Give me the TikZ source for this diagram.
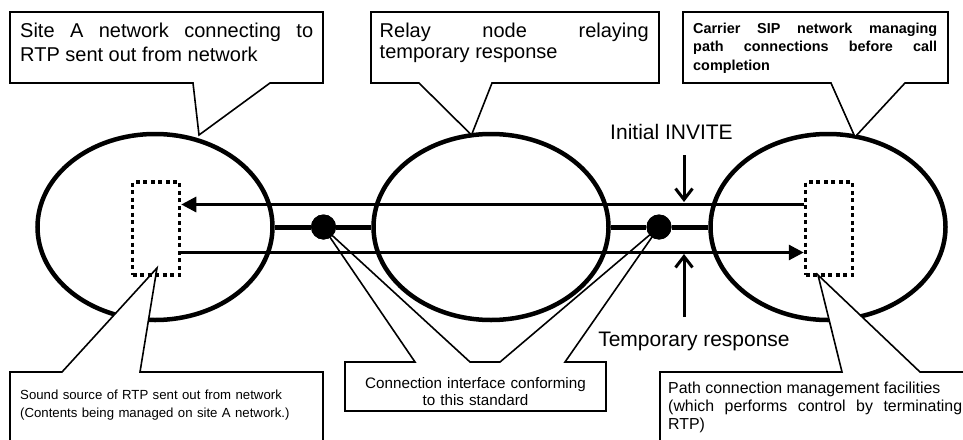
\documentclass[tikz,border=0pt]{standalone}
\usepackage{fontspec}
\setmainfont{Liberation Sans}
\usetikzlibrary{arrows.meta,shapes.geometric}

\tikzset{
  net/.style={ellipse,draw,line width=4.5pt,minimum width=235pt,minimum height=186pt,inner sep=0pt},
  srcbox/.style={draw,line width=3.5pt,dash pattern=on 4pt off 3.5pt,minimum width=47pt,minimum height=93pt,inner sep=0pt},
  junction/.style={circle,fill,minimum size=25pt,inner sep=0pt},
  callout/.style={fill=white,draw,line width=1.6pt,line join=miter},
  flow/.style={line width=3pt,-{Triangle[length=15pt,width=15pt]}},
  trunk/.style={line width=5pt},
  marker/.style={line width=3pt,-{Straight Barb[length=11pt,width=17pt]}},
  txt/.style={inner sep=0pt,anchor=base west,align=justify},
}

\begin{document}
\begin{tikzpicture}[x=1pt,y=-1pt]
\clip (0,0) rectangle (963,439);

% interface callout sits underneath everything, its pointers cross the networks
\filldraw[callout] (345,362) -- (415,362) -- (323,227) -- (470,362) -- (500,362) -- (659,227) -- (565,362)
  -- (606,362) -- (606,411) -- (345,411) -- cycle;
\node[inner sep=0pt,anchor=base,text width=255pt,align=center,font=\fontsize{15.2pt}{16.7pt}\selectfont] (lblIface) at (475.5,388.3)
  {Connection interface conforming\\to this standard};

% the three networks
\node[net] (siteA) at (155,227) {};
\node[net] (relay) at (491,227) {};
\node[net] (carrier) at (828,227) {};

% callout boxes
\filldraw[callout] (10,12) -- (323,12) -- (323,83) -- (270,83) -- (199,135) -- (193,83) -- (10,83) -- cycle;
\node[txt,text width=293pt,font=\fontsize{20pt}{24.3pt}\selectfont] (lblA) at (20,37)
  {Site A network connecting to\linebreak RTP sent out from network};

\filldraw[callout] (371,12) -- (659,12) -- (659,83) -- (492,83) -- (471.5,135) -- (419,83) -- (371,83) -- cycle;
\node[txt,text width=269pt,font=\fontsize{20pt}{21pt}\selectfont] (lblRelay) at (379.5,37.3)
  {Relay node relaying\linebreak temporary response};

\filldraw[callout] (683,12) -- (948,12) -- (948,83) -- (905,83) -- (855,137) -- (831,83) -- (683,83) -- cycle;
\node[txt,text width=244pt,font=\fontsize{14.4pt}{18.3pt}\selectfont\bfseries] (lblCarrier) at (693,33.5)
  {Carrier SIP network managing\linebreak path connections before call\linebreak completion};

\filldraw[callout] (10,372) -- (62,372) -- (157,268) -- (140,372) -- (323,372) -- (323,450) -- (10,450) -- cycle;
\node[txt,text width=300pt,font=\fontsize{13.2pt}{18pt}\selectfont,align=left] (lblSource) at (20,399.3)
  {Sound source of RTP sent out from network\\(Contents being managed on site A network.)};

\filldraw[callout] (660,372) -- (842,372) -- (818,275) -- (920,372) -- (975,372) -- (975,450) -- (660,450) -- cycle;
\node[txt,text width=294pt,font=\fontsize{15.9pt}{18.3pt}\selectfont] (lblPath) at (668,393.3)
  {Path connection management facilities\\(which performs control by terminating\linebreak RTP)};

% RTP source and terminating facilities
\node[srcbox] (source) at (156,228.5) {};
\node[srcbox] (pathmgr) at (829,228.5) {};

% RTP flows
\draw[flow] ([yshift=24pt]pathmgr.west) -- ([yshift=24pt]source.east);
\draw[flow] ([yshift=-24pt]source.east) -- ([yshift=-24pt]pathmgr.west);

% interconnections between networks
\node[junction] (ifA) at (323.5,227) {};
\node[junction] (ifB) at (659,227) {};
\draw[trunk] (siteA.east) -- (ifA) -- (relay.west);
\draw[trunk] (relay.east) -- (ifB) -- (carrier.west);
\node[junction] at (ifA) {};
\node[junction] at (ifB) {};

% signalling markers
\coordinate (inviteStart) at (684,155);
\coordinate (inviteEnd) at (684,202);
\coordinate (respStart) at (684,317);
\coordinate (respEnd) at (684,254);
\draw[marker] (inviteStart) -- (inviteEnd);
\draw[marker] (respStart) -- (respEnd);
\node[inner sep=0pt,font=\fontsize{21pt}{24pt}\selectfont] (lblInvite) at (671.5,132) {Initial INVITE};
\node[inner sep=0pt,font=\fontsize{21pt}{24pt}\selectfont] (lblResp) at (694,341) {Temporary response};
\end{tikzpicture}
\end{document}
